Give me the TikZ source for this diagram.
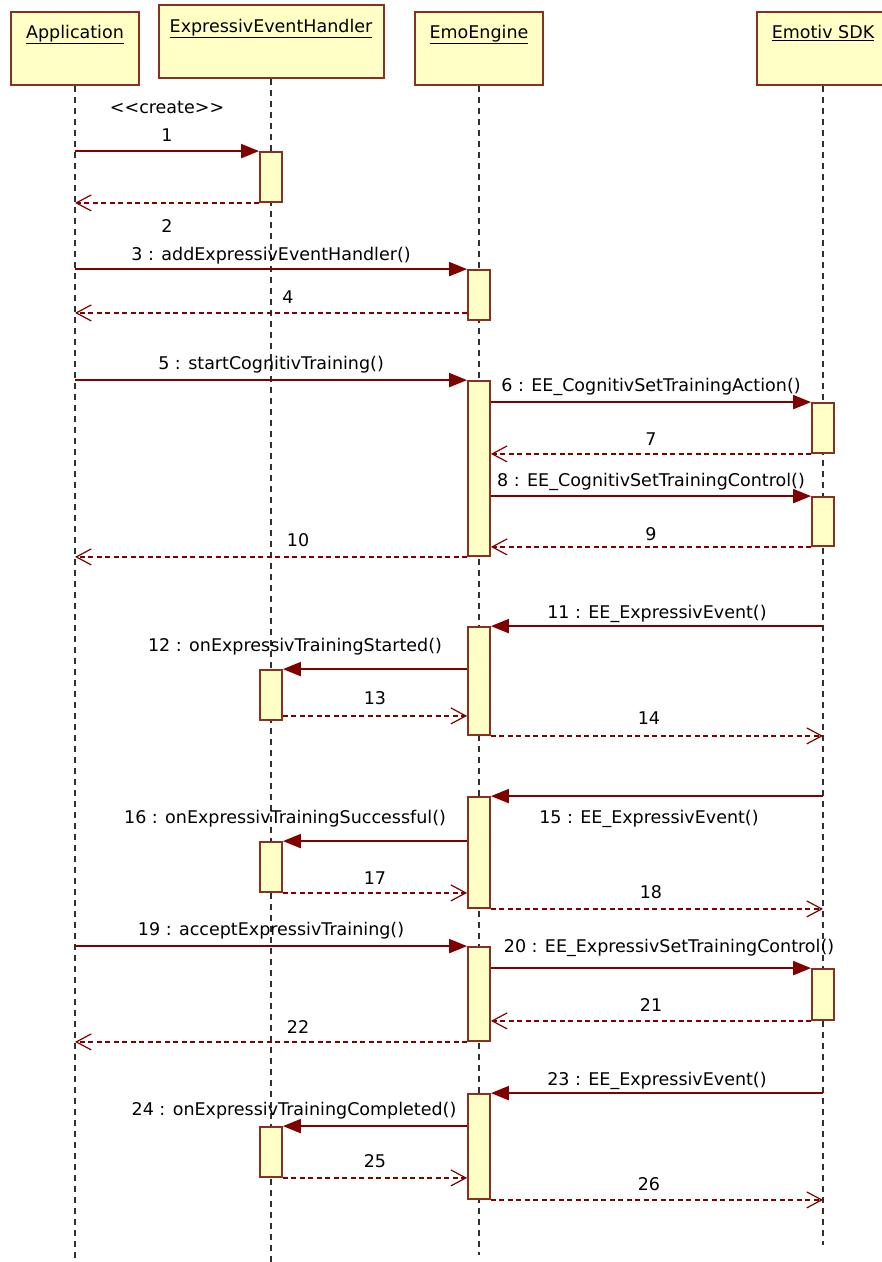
\documentclass[tikz,border=0pt]{standalone}
\usepackage{fontspec}
\setmainfont{DejaVu Sans}
\usetikzlibrary{arrows.meta}
\definecolor{msg}{HTML}{800000}
\definecolor{edge}{HTML}{8A3020}
\definecolor{pad}{HTML}{FFFFC6}
\definecolor{lifec}{HTML}{303030}
\begin{document}
\begin{tikzpicture}[x=1pt,y=-1pt,font=\fontsize{17.5}{21}\selectfont,
  obj/.style={draw=edge,fill=pad,line width=2pt,minimum width=128pt,minimum height=73pt,inner sep=0pt},
  ttl/.style={anchor=base,inner sep=0pt},
  act/.style={draw=edge,fill=pad,line width=1.8pt,minimum width=22pt,inner sep=0pt},
  lifeline/.style={draw=lifec,line width=1.3pt,dash pattern=on 6pt off 5pt},
  call/.style={draw=msg,line width=2pt,-{Triangle[length=18pt,width=14pt]}},
  ret/.style={draw=msg,line width=1.6pt,dash pattern=on 5pt off 3.5pt,-{Straight Barb[length=15pt,width=16pt,line width=1.2pt]}},
  lbl/.style={inner sep=0pt,text depth=0pt,midway}]
\fill[white] (0,0) rectangle (882,1262);
\useasboundingbox (0,0) rectangle (882,1262);
% objects
\node[obj] (app) at (75,48.5) {};
\node[obj,minimum width=225pt] (eeh) at (271,41.5) {};
\node[obj] (emo) at (479,48.5) {};
\node[obj,minimum width=132pt] (sdk) at (823,48.5) {};
\node[ttl] (appT) at ([yshift=-27.5pt]app.north) {\underline{Application}};
\node[ttl] (eehT) at ([yshift=-28pt]eeh.north) {\underline{ExpressivEventHandler}};
\node[ttl] (emoT) at ([yshift=-27.5pt]emo.north) {\underline{EmoEngine}};
\node[ttl] (sdkT) at ([yshift=-27.5pt]sdk.north) {\underline{Emotiv SDK}};
% lifelines
\coordinate (appE) at (75,1262);
\coordinate (eehE) at (271,1262);
\coordinate (emoE) at (479,1255);
\coordinate (sdkE) at (823,1245);
\draw[lifeline] (app.south) -- (appE);
\draw[lifeline] (eeh.south) -- (eehE);
\draw[lifeline] (emo.south) -- (emoE);
\draw[lifeline] (sdk.south) -- (sdkE);
% activations
\node[act,minimum height=50pt] (e1) at (271,177) {};
\node[act,minimum height=50pt] (e2) at (271,695) {};
\node[act,minimum height=50pt] (e3) at (271,867) {};
\node[act,minimum height=50pt] (e4) at (271,1152) {};
\node[act,minimum height=50pt] (m1) at (479,295) {};
\node[act,minimum height=175pt] (m2) at (479,468.5) {};
\node[act,minimum height=108pt] (m3) at (479,681) {};
\node[act,minimum height=111pt] (m4) at (479,852.5) {};
\node[act,minimum height=94pt] (m5) at (479,994) {};
\node[act,minimum height=105pt] (m6) at (479,1146.5) {};
\node[act,minimum height=50pt] (s1) at (823,428) {};
\node[act,minimum height=49pt] (s2) at (823,521.5) {};
\node[act,minimum height=51pt] (s3) at (823,994.5) {};
\coordinate (r4) at ([yshift=8pt]m1.south west);
\coordinate (r13) at ([yshift=5pt]e2.south east);
% messages
\draw[call] (app |- e1.north) -- node[lbl,above=9pt]{1} node[lbl,above=37pt]{<\kern0pt<create>\kern0pt>} (e1.north west);
\draw[ret] (e1.south west) -- node[lbl,below=16pt]{2} (app |- e1.south);
\draw[call] (app |- m1.north) -- node[lbl,above=8pt]{3 : addExpressivEventHandler()} (m1.north west);
\draw[ret] (r4) -- node[lbl,above=9pt,xshift=17pt]{4} (app |- r4);
\draw[call] (app |- m2.north) -- node[lbl,above=10pt]{5 : startCognitivTraining()} (m2.north west);
\draw[call] (m2.east |- s1.north) -- node[lbl,above=10pt]{6 : EE\_CognitivSetTrainingAction()} (s1.north west);
\draw[ret] (s1.south west) -- node[lbl,above=8pt]{7} (m2.east |- s1.south);
\draw[call] (m2.east |- s2.north) -- node[lbl,above=9pt]{8 : EE\_CognitivSetTrainingControl()} (s2.north west);
\draw[ret] (s2.south west) -- node[lbl,above=6pt]{9} (m2.east |- s2.south);
\draw[ret] (m2.south west) -- node[lbl,above=10pt,xshift=27pt]{10} (app |- m2.south);
\draw[call] (sdk |- m3.north) -- node[lbl,above=7pt]{11 : EE\_ExpressivEvent()} (m3.north east);
\draw[call] (m3.west |- e2.north) -- node[lbl,above=17pt,xshift=-80pt]{12 : onExpressivTrainingStarted()} (e2.north east);
\draw[ret] (r13) -- node[lbl,above=11pt]{13} (m3.west |- r13);
\draw[ret] (m3.south east) -- node[lbl,above=11pt,xshift=-8pt]{14} (sdk |- m3.south);
\draw[call] (sdk |- m4.north) -- node[lbl,below=13pt,xshift=-8pt]{15 : EE\_ExpressivEvent()} (m4.north east);
\draw[call] (m4.west |- e3.north) -- node[lbl,above=17pt,xshift=-90pt]{16 : onExpressivTrainingSuccessful()} (e3.north east);
\draw[ret] (e3.south east) -- node[lbl,above=8pt]{17} (m4.west |- e3.south);
\draw[ret] (m4.south east) -- node[lbl,above=10pt,xshift=-6pt]{18} (sdk |- m4.south);
\draw[call] (app |- m5.north) -- node[lbl,above=10pt]{19 : acceptExpressivTraining()} (m5.north west);
\draw[call] (m5.east |- s3.north) -- node[lbl,above=15pt,xshift=18pt]{20 : EE\_ExpressivSetTrainingControl()} (s3.north west);
\draw[ret] (s3.south west) -- node[lbl,above=9pt]{21} (m5.east |- s3.south);
\draw[ret] (m5.south west) -- node[lbl,above=8pt,xshift=27pt]{22} (app |- m5.south);
\draw[call] (sdk |- m6.north) -- node[lbl,above=7pt]{23 : EE\_ExpressivEvent()} (m6.north east);
\draw[call] (m6.west |- e4.north) -- node[lbl,above=10pt,xshift=-81pt]{24 : onExpressivTrainingCompleted()} (e4.north east);
\draw[ret] (e4.south east) -- node[lbl,above=10pt]{25} (m6.west |- e4.south);
\draw[ret] (m6.south east) -- node[lbl,above=9pt,xshift=-8pt]{26} (sdk |- m6.south);
\end{tikzpicture}
\end{document}
